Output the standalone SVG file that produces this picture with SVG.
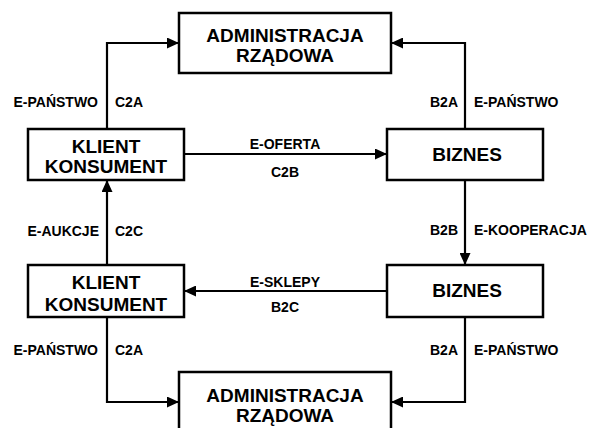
<svg xmlns="http://www.w3.org/2000/svg" width="589" height="428" viewBox="0 0 589 428">
<defs>
<marker id="ah" viewBox="0 0 12 11" refX="12" refY="5.5" markerWidth="12" markerHeight="11" markerUnits="userSpaceOnUse" orient="auto">
<path d="M0,0 L12,5.5 L0,11 Z" fill="#000"/>
</marker>
<style>
.box{fill:#fff;stroke:#000;stroke-width:2.5}
.big{font-family:"Liberation Sans",Arial,sans-serif;font-weight:bold;font-size:19px;text-anchor:middle;fill:#000}
.lbl{font-family:"Liberation Sans",Arial,sans-serif;font-weight:bold;font-size:14px;fill:#000}
.c{fill:none;stroke:#000;stroke-width:2.2;marker-end:url(#ah)}
.e{text-anchor:end}
.m{text-anchor:middle}
</style>
</defs>
<rect width="589" height="428" fill="#fff"/>
<g id="connectors">
<path class="c" d="M107,129 V43 H179"/>
<path class="c" d="M465,129 V43 H391"/>
<path class="c" d="M184,154 H387"/>
<path class="c" d="M107,265 V180"/>
<path class="c" d="M465,180 V265"/>
<path class="c" d="M387,291 H184"/>
<path class="c" d="M107,317 V402 H179"/>
<path class="c" d="M465,317 V402 H391"/>
<text class="lbl e" x="98" y="107">E-PAŃSTWO</text>
<text class="lbl" x="115" y="107">C2A</text>
<text class="lbl e" x="458" y="107">B2A</text>
<text class="lbl" x="474" y="107">E-PAŃSTWO</text>
<text class="lbl m" x="285" y="149">E-OFERTA</text>
<text class="lbl m" x="285" y="177">C2B</text>
<text class="lbl e" x="99" y="236">E-AUKCJE</text>
<text class="lbl" x="115" y="236">C2C</text>
<text class="lbl e" x="458" y="235">B2B</text>
<text class="lbl" x="474" y="235">E-KOOPERACJA</text>
<text class="lbl m" x="285" y="287">E-SKLEPY</text>
<text class="lbl m" x="285" y="312">B2C</text>
<text class="lbl e" x="98" y="355">E-PAŃSTWO</text>
<text class="lbl" x="115" y="355">C2A</text>
<text class="lbl e" x="458" y="355">B2A</text>
<text class="lbl" x="474" y="355">E-PAŃSTWO</text>
</g>
<g id="admin-top">
<rect class="box" x="179" y="13" width="212" height="60"/>
<text class="big" x="285" y="42">ADMINISTRACJA</text>
<text class="big" x="285" y="62">RZĄDOWA</text>
</g>
<g id="klient-top">
<rect class="box" x="28" y="129" width="156" height="51"/>
<text class="big" x="106" y="153">KLIENT</text>
<text class="big" x="106" y="173">KONSUMENT</text>
</g>
<g id="biznes-top">
<rect class="box" x="387" y="129" width="156" height="51"/>
<text class="big" x="467" y="161">BIZNES</text>
</g>
<g id="klient-bottom">
<rect class="box" x="28" y="265" width="156" height="52"/>
<text class="big" x="106" y="289">KLIENT</text>
<text class="big" x="106" y="311">KONSUMENT</text>
</g>
<g id="biznes-bottom">
<rect class="box" x="387" y="265" width="156" height="52"/>
<text class="big" x="467" y="297">BIZNES</text>
</g>
<g id="admin-bottom">
<rect class="box" x="179" y="372" width="212" height="70"/>
<text class="big" x="285" y="402">ADMINISTRACJA</text>
<text class="big" x="285" y="422">RZĄDOWA</text>
</g>
</svg>
